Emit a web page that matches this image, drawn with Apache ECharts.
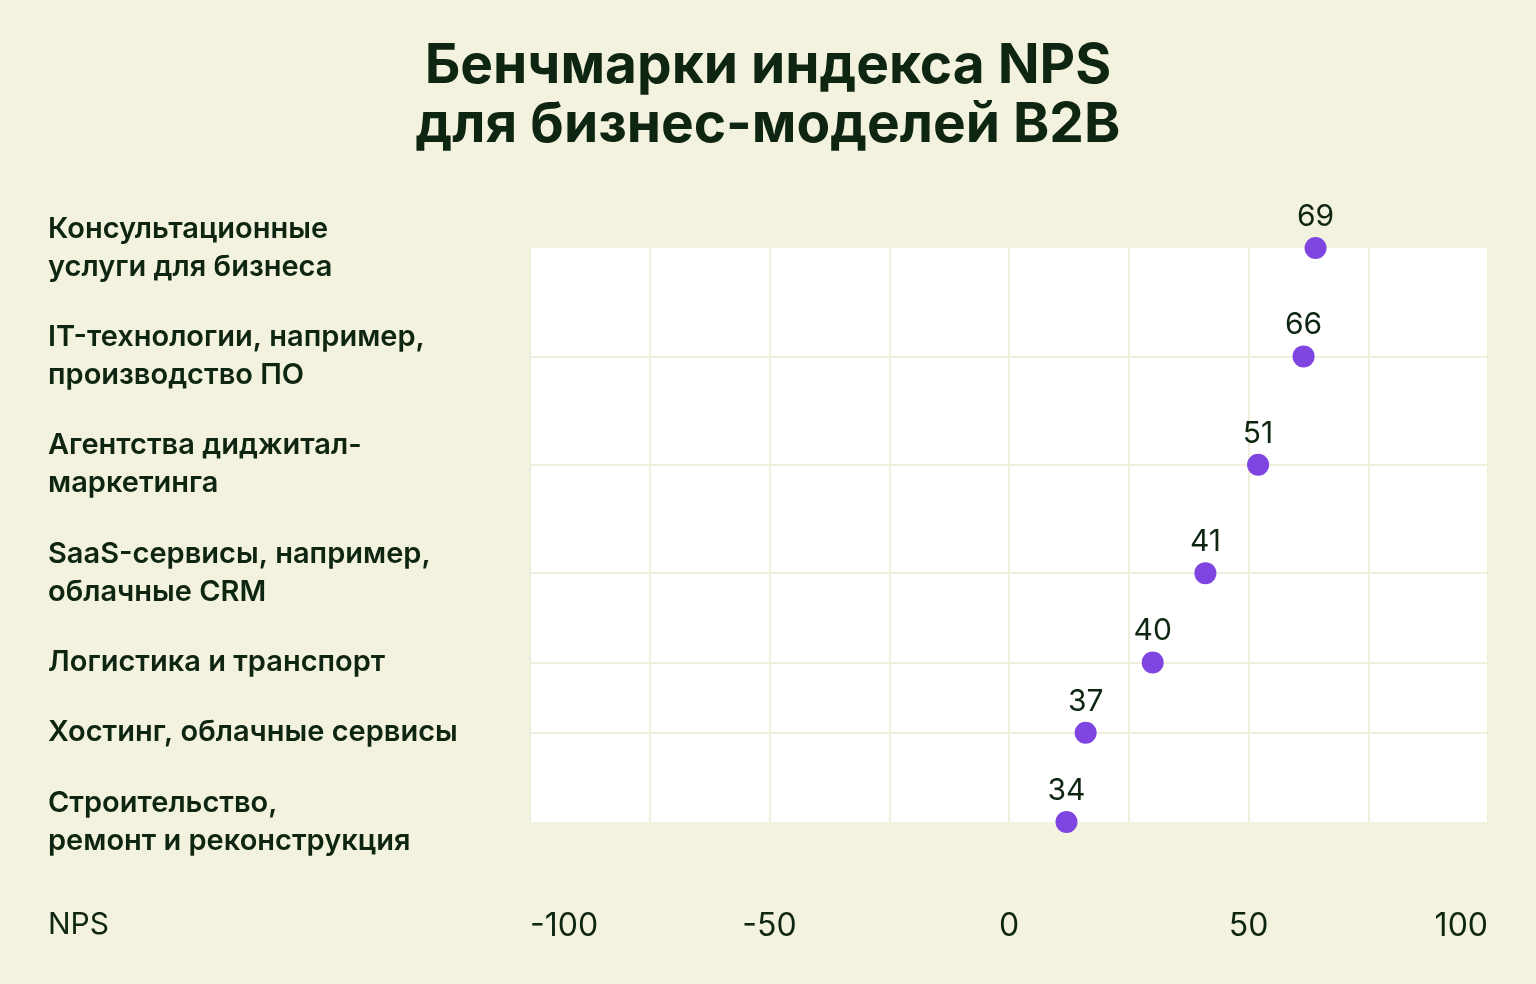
<!DOCTYPE html>
<html lang="ru">
<head>
<meta charset="utf-8">
<title>Бенчмарки индекса NPS для бизнес-моделей B2B</title>
<script src="https://cdn.jsdelivr.net/npm/echarts@6/dist/echarts.min.js"></script>
<style>
  html, body { margin: 0; padding: 0; background: #f3f2df; }
  #chart { width: 1536px; height: 984px; }
</style>
</head>
<body>
<div id="chart"></div>
<script>
const categories = [
  'Консультационные\nуслуги для бизнеса',
  'IT-технологии, например,\nпроизводство ПО',
  'Агентства диджитал-\nмаркетинга',
  'SaaS-сервисы, например,\nоблачные CRM',
  'Логистика и транспорт',
  'Хостинг, облачные сервисы',
  'Строительство,\nремонт и реконструкция'
]
// NPS shown in the labels
const scores = [69, 66, 51, 41, 40, 37, 34]
// where the markers actually sit on the NPS axis in the picture
const markerNps = [64, 61.5, 52, 41, 30, 16, 12]
const xTickLabels = [-100, -50, 0, 50, 100]

const textColor = '#0d2511'
const font = 'Inter, "Noto Sans", sans-serif'

// rows are spaced by how many lines their label takes
const lineCount = categories.map(c => c.split('\n').length)
const rowPos = [0]
for (let i = 1; i < categories.length; i++) {
  rowPos.push(rowPos[i - 1] + (lineCount[i - 1] + lineCount[i]) / 2 * 38 + 32)
}

const chart = echarts.init(document.getElementById('chart'))

const option = {
  backgroundColor: '#f3f2df',
  textStyle: { fontFamily: font },
  title: [
    {
      text: 'Бенчмарки индекса NPS\nдля бизнес-моделей B2B',
      left: 'center',
      top: 32,
      textStyle: {
        fontFamily: font,
        fontSize: 55,
        fontWeight: 700,
        lineHeight: 59,
        color: textColor
      }
    },
    {
      text: 'NPS',
      left: 48,
      top: 910,
      padding: 0,
      textStyle: { fontFamily: font, fontSize: 30, fontWeight: 400, color: textColor }
    }
  ],
  grid: {
    left: 530,
    right: 48,
    top: 248,
    bottom: 162,
    show: true,
    backgroundColor: '#ffffff',
    borderWidth: 0
  },
  xAxis: {
    type: 'value',
    min: -100,
    max: 100,
    interval: 25,
    axisLine: { show: false },
    axisTick: { show: false },
    splitLine: { lineStyle: { color: '#f0efdc', width: 2 } },
    axisLabel: {
      customValues: xTickLabels,
      margin: 88,
      fontSize: 32,
      color: textColor,
      fontFamily: font,
      alignMinLabel: 'left',
      alignMaxLabel: 'right'
    }
  },
  yAxis: {
    type: 'value',
    inverse: true,
    min: 0,
    max: rowPos[rowPos.length - 1],
    axisLine: { show: false },
    axisTick: { show: false, customValues: rowPos.slice(1, -1) },
    splitLine: { lineStyle: { color: '#f0efdc', width: 2 } },
    axisLabel: {
      customValues: rowPos,
      formatter: v => categories[rowPos.indexOf(v)] || '',
      align: 'left',
      margin: 482,
      fontSize: 29,
      fontWeight: 600,
      lineHeight: 38,
      color: textColor,
      fontFamily: font
    }
  },
  series: [{
    type: 'scatter',
    clip: false,
    symbolSize: 22,
    itemStyle: { color: '#7f45e0', opacity: 1 },
    data: markerNps.map((x, i) => [x, rowPos[i]]),
    label: {
      show: true,
      position: 'top',
      distance: 5,
      formatter: p => String(scores[p.dataIndex]),
      fontSize: 30,
      color: textColor,
      fontFamily: font
    },
    emphasis: { disabled: true }
  }]
}

chart.setOption(option)
window.addEventListener('resize', () => chart.resize())
</script>
</body>
</html>
